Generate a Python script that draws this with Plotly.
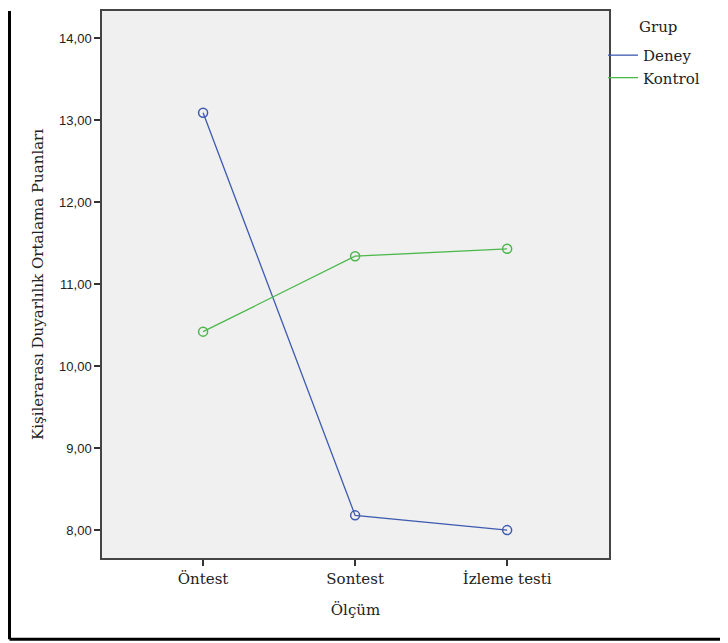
import plotly.graph_objects as go

categories = ["Öntest", "Sontest", "İzleme testi"]
deney = [13.09, 8.18, 8.00]
kontrol = [10.42, 11.34, 11.43]
y_ticks = [8, 9, 10, 11, 12, 13, 14]

BLUE = "#3d5bb0"
GREEN = "#4cb84c"
SERIF = "DejaVu Serif"
SANS = "Liberation Sans"
TXT = "#222"

OFF = 8  # page body margin
W, H = 728 - OFF, 643 - OFF
# plot-area edges in window pixels
L, R, T, B = 102, 609, 9, 558

fig = go.Figure()
xs = list(range(len(categories)))
for name, vals, col in [("Deney", deney, BLUE), ("Kontrol", kontrol, GREEN)]:
    fig.add_trace(go.Scatter(
        x=xs, y=vals, mode="lines+markers", name=name, showlegend=False,
        line=dict(color=col, width=1.3),
        marker=dict(symbol="circle-open", size=9, color=col, line=dict(width=1.5, color=col)),
    ))
    fig.add_trace(go.Scatter(
        x=[None], y=[None], mode="lines", name=name, showlegend=True,
        line=dict(color=col, width=1.3),
    ))

def px_x(px):
    return (px - L) / (R - L)

def px_y(py):
    return (B - py) / (B - T)

# outer frame (left, bottom)
for x0, y0, x1, y1 in [(9.5, 9, 9.5, 639.5), (9.5, 639.5, 740, 639.5)]:
    fig.add_shape(type="line", xref="paper", yref="paper",
                  x0=px_x(x0), y0=px_y(y0), x1=px_x(x1), y1=px_y(y1),
                  line=dict(color="black", width=3), layer="above")

fig.add_annotation(text="Grup", xref="paper", yref="paper",
                   x=px_x(637), y=px_y(25), xanchor="left", yanchor="middle",
                   showarrow=False, font=dict(family=SERIF, size=15, color=TXT))

fig.update_layout(
    width=W, height=H,
    margin=dict(l=L - OFF, r=728 - R, t=T - OFF, b=643 - B, pad=0),
    paper_bgcolor="white",
    plot_bgcolor="#f0f0f0",
    separators=",.",
    showlegend=True,
    legend=dict(
        font=dict(family=SERIF, size=15, color=TXT),
        x=px_x(603), xanchor="left", y=px_y(37), yanchor="top",
        bgcolor="rgba(0,0,0,0)", itemwidth=30, tracegroupgap=0,
    ),
    xaxis=dict(
        range=[-0.665, 2.67], tickmode="array", tickvals=xs, ticktext=categories,
        ticks="outside", ticklen=6, tickwidth=1.5, tickcolor="#333",
        showgrid=False, zeroline=False,
        showline=True, linecolor="#444", linewidth=1.5, mirror=True,
        tickfont=dict(family=SERIF, size=15, color=TXT),
        title=dict(text="Ölçüm", font=dict(family=SERIF, size=15, color=TXT), standoff=18),
    ),
    yaxis=dict(
        range=[7.66, 14.33], tickmode="array", tickvals=y_ticks, tickformat=".2f",
        ticks="outside", ticklen=6, tickwidth=1.5, tickcolor="#333",
        showgrid=False, zeroline=False,
        showline=True, linecolor="#444", linewidth=1.5, mirror=True,
        tickfont=dict(family=SANS, size=13, color=TXT),
        title=dict(text="Kişilerarası Duyarlılık Ortalama Puanları",
                   font=dict(family=SERIF, size=15, color=TXT), standoff=12),
    ),
)

fig.write_html("out.html")
